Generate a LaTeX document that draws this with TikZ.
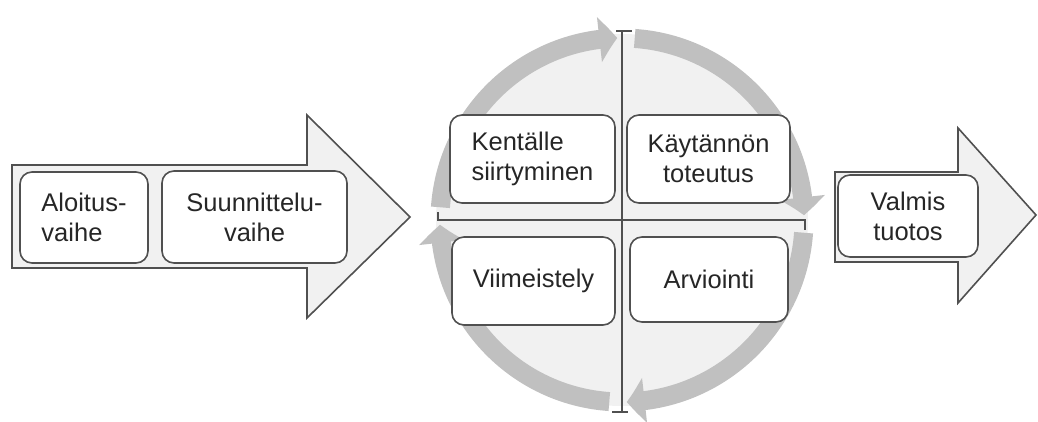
\documentclass[tikz,border=0pt]{standalone}
\usepackage{fontspec}
\setmainfont{Liberation Sans}
\usetikzlibrary{arrows.meta,bending}
\definecolor{lineGray}{HTML}{505050}
\definecolor{fillGray}{HTML}{F1F1F1}
\definecolor{ringGray}{HTML}{C0C0C0}
\definecolor{textGray}{HTML}{262626}
\newcommand{\ringRadius}{182pt}
\newcommand{\phaseFont}{\fontsize{25.5}{30}\selectfont}

\begin{document}
\begin{tikzpicture}[x=1pt, y=1pt,
		phase/.style={draw=lineGray, line width=1.6pt, fill=white, rounded corners=12pt, inner sep=0pt,
			font=\phaseFont, text=textGray, align=center},
		bigarrow/.style={draw=lineGray, line width=1.6pt, fill=fillGray, line join=miter},
		ring/.style={ringGray, line width=19pt, -{Triangle[width=44pt,length=18pt,bend]}},
		axis/.style={draw=lineGray, line width=1.4pt}]
		\useasboundingbox (0,0) rectangle (1038,421);
		%left arrow
		\draw[bigarrow] (12,153) -- (12,256) -- (307,256) -- (307,306) -- (410,204) -- (307,103) -- (307,153) -- cycle;
		%circle
		\coordinate (centre) at (622,201);
		\fill[fillGray] (centre) circle[radius=186pt];
		\foreach \k in {0,1,2,3}
			\draw[ring] ([shift={(176-90*\k:\ringRadius)}]centre) arc[start angle=176-90*\k, end angle=91.5-90*\k, radius=\ringRadius];
		\draw[axis] (616,390) -- (632,390);
		\draw[axis] (622,390) -- (622,9);
		\draw[axis] (612,9) -- (628,9);
		\draw[axis] (438,209) -- (438,201) -- (805,201) -- (805,191);
		%right arrow
		\draw[bigarrow] (835,159) -- (835,249) -- (958,249) -- (958,293) -- (1036,206) -- (958,118) -- (958,159) -- cycle;
		%phases
		\node[phase, minimum width=128pt, minimum height=91pt, align=left] (aloitus) at (84,203.5) {Aloitus-\\vaihe};
		\node[phase, minimum width=185pt, minimum height=92pt] (suunnittelu) at (254.5,204) {Suunnittelu-\\vaihe};
		\node[phase, minimum width=165pt, minimum height=88pt, align=left] (kentalle) at (532.5,262) {Kentälle\\siirtyminen};
		\node[phase, minimum width=163pt, minimum height=88pt] (kaytannon) at (708.5,262) {Käytännön\\toteutus};
		\node[phase, minimum width=163pt, minimum height=88pt] (viimeistely) at (533.5,140) {Viimeistely};
		\node[phase, minimum width=158pt, minimum height=85pt] (arviointi) at (709,141.5) {Arviointi};
		\node[phase, minimum width=140pt, minimum height=82pt] (valmis) at (908,205) {Valmis\\tuotos};
	\end{tikzpicture}
\end{document}
